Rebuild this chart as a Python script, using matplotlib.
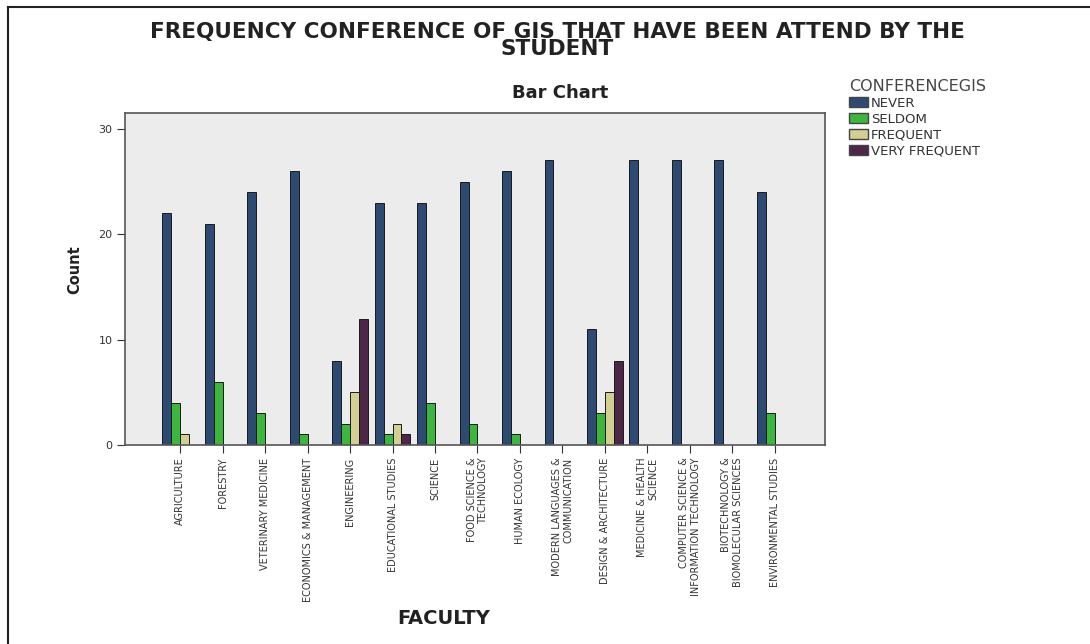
import numpy as np
import matplotlib
matplotlib.use("Agg")
from matplotlib import pyplot as plt
from matplotlib.lines import Line2D
from matplotlib.patches import Patch

# data
faculties = ["AGRICULTURE", "FORESTRY", "VETERINARY MEDICINE", "ECONOMICS & MANAGEMENT",
             "ENGINEERING", "EDUCATIONAL STUDIES", "SCIENCE", "FOOD SCIENCE &\nTECHNOLOGY",
             "HUMAN ECOLOGY", "MODERN LANGUAGES &\nCOMMUNICATION", "DESIGN & ARCHITECTURE",
             "MEDICINE & HEALTH\nSCIENCE", "COMPUTER SCIENCE &\nINFORMATION TECHNOLOGY",
             "BIOTECHNOLOGY &\nBIOMOLECULAR SCIENCES", "ENVIRONMENTAL STUDIES"]
never = [22, 21, 24, 26, 8, 23, 23, 25, 26, 27, 11, 27, 27, 27, 24]
seldom = [4, 6, 3, 1, 2, 1, 4, 2, 1, 0, 3, 0, 0, 0, 3]
frequent = [1, 0, 0, 0, 5, 2, 0, 0, 0, 0, 5, 0, 0, 0, 0]
very_frequent = [0, 0, 0, 0, 12, 1, 0, 0, 0, 0, 8, 0, 0, 0, 0]

series = [("NEVER", never, "#2d4a72"),
          ("SELDOM", seldom, "#3cb63c"),
          ("FREQUENT", frequent, "#d3ce92"),
          ("VERY FREQUENT", very_frequent, "#4d2747")]

fig = plt.figure(figsize=(10.9, 6.44), dpi=100)
ax = fig.add_axes([0.1147, 0.309, 0.642, 0.5155])
ax.set_facecolor("#ececec")

x = np.arange(len(faculties))
w = 0.21
for i, (name, vals, col) in enumerate(series):
    ax.bar(x + (i - 1.5) * w, vals, width=w, color=col, edgecolor="#1a1a1a", linewidth=0.7)

ax.set_xlim(-1.3, len(faculties) - 1 + 1.18)
ax.set_ylim(0, 31.5)
ax.set_yticks([0, 10, 20, 30])
ax.set_xticks(x)
ax.set_xticklabels(faculties, rotation=90, fontsize=7, va="top", ha="center",
                   multialignment="right", color="#222222")
ax.tick_params(axis="y", length=6, labelsize=8, colors="#333333", pad=3)
ax.tick_params(axis="x", length=6, pad=3, colors="#333333")
for s in ax.spines.values():
    s.set_color("#555555")
    s.set_linewidth(1.2)

fig.text(0.511, 0.966, "FREQUENCY CONFERENCE OF GIS THAT HAVE BEEN ATTEND BY THE\nSTUDENT",
         ha="center", va="top", fontsize=15.5, fontweight="bold", color="#222222",
         linespacing=0.8)
fig.text(0.514, 0.856, "Bar Chart", ha="center", va="center", fontsize=13,
         fontweight="bold", color="#222222")
fig.text(0.069, 0.582, "Count", rotation=90, ha="center", va="center", fontsize=10.5,
         fontweight="bold", color="#222222")
fig.text(0.407, 0.04, "FACULTY", ha="center", va="center", fontsize=14,
         fontweight="bold", color="#222222")

handles = [Patch(facecolor=c, edgecolor="#444444", label=n) for n, _, c in series]
leg = fig.legend(handles=handles, title="CONFERENCEGIS", loc="upper left",
                 bbox_to_anchor=(0.772, 0.89), frameon=False, fontsize=9.5,
                 title_fontsize=11.5, handlelength=1.4, handleheight=0.85,
                 handletextpad=0.25, labelspacing=0.22, alignment="left",
                 borderaxespad=0.2)
leg.get_title().set_color("#444444")
for t in leg.get_texts():
    t.set_color("#333333")

# partial frame around the picture (top and left edges only)
fig.add_artist(Line2D([0.0075, 1.0], [0.989, 0.989], color="#222222", lw=1.5))
fig.add_artist(Line2D([0.0075, 0.0075], [0.0, 0.989], color="#222222", lw=1.5))

fig.savefig("out.png", dpi=100)
